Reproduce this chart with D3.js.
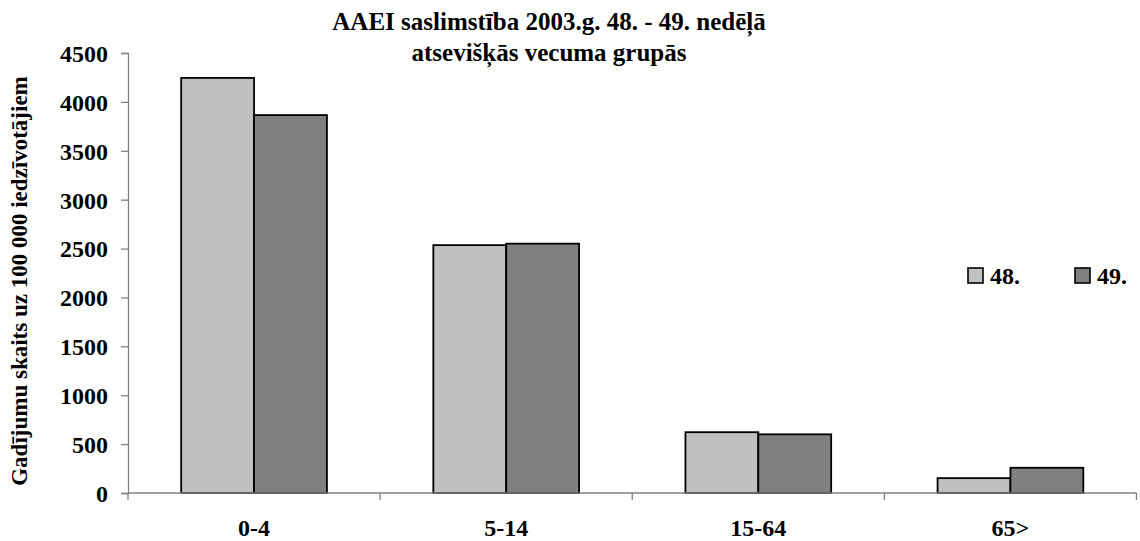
<!DOCTYPE html>
<html>
<head>
<meta charset="utf-8">
<script src="https://cdn.jsdelivr.net/npm/d3@7"></script>
<style>
  body { margin: 0; background: #fff; }
  svg text { font-family: "Liberation Serif", "DejaVu Serif", serif; font-weight: bold; fill: #000; }
</style>
</head>
<body>
<svg id="chart" width="1140" height="541"></svg>
<script>
const categories = ["0-4", "5-14", "15-64", "65>"];
const seriesNames = ["48.", "49."];
const week48 = [4245, 2535, 622, 152];
const week49 = [3865, 2550, 600, 258];
const yTicks = [0, 500, 1000, 1500, 2000, 2500, 3000, 3500, 4000, 4500];
const colors = ["#c0c0c0", "#808080"];

const PLOT = { left: 128, right: 1136.5, top: 53, bottom: 493 };
const FONT = "'Liberation Serif', 'DejaVu Serif', serif";

const svg = d3.select("#chart");

const x = d3.scaleBand()
  .domain(categories)
  .range([PLOT.left, PLOT.right])
  .paddingInner(0)
  .paddingOuter(0);

const xInner = d3.scaleBand()
  .domain(seriesNames)
  .range([0, x.bandwidth()])
  .paddingInner(0)
  .paddingOuter(0.73);

const y = d3.scaleLinear()
  .domain([0, 4500])
  .range([PLOT.bottom, PLOT.top]);

// title
const title = svg.append("text")
  .attr("text-anchor", "middle")
  .attr("font-family", FONT)
  .style("font-size", "25px");
title.append("tspan").attr("x", 549).attr("y", 30).text("AAEI saslimstība 2003.g. 48. - 49. nedēļā");
title.append("tspan").attr("x", 549).attr("y", 61).text("atsevišķās vecuma grupās");

// bars
const data = categories.map((c, i) => ({ cat: c, values: [week48[i], week49[i]] }));

const groups = svg.append("g").attr("class", "rectangles")
  .selectAll("g")
  .data(data)
  .enter()
  .append("g")
  .attr("transform", d => "translate(" + x(d.cat) + ",0)");

groups.selectAll("rect")
  .data(d => d.values.map((v, j) => ({ name: seriesNames[j], value: v, color: colors[j] })))
  .enter()
  .append("rect")
  .attr("x", d => xInner(d.name))
  .attr("y", d => y(d.value))
  .attr("width", xInner.bandwidth())
  .attr("height", d => PLOT.bottom - y(d.value))
  .attr("fill", d => d.color)
  .attr("stroke", "#000")
  .attr("stroke-width", 1.8);

// y axis
const yaB = svg.append("g")
  .attr("class", "y-axis")
  .attr("transform", "translate(" + PLOT.left + ",0)")
  .call(d3.axisLeft(y).tickValues(yTicks).tickSize(7).tickPadding(13).tickFormat(d3.format("d")));
yaB.attr("font-family", FONT);
yaB.select(".domain").attr("stroke", "#808080").attr("stroke-width", 1.3);
yaB.selectAll(".tick line").attr("stroke", "#808080").attr("stroke-width", 1.3);
yaB.selectAll(".tick text").style("font-size", "24px").attr("dy", "0.35em");

// x axis
const xaB = svg.append("g")
  .attr("class", "x-axis")
  .attr("transform", "translate(0," + PLOT.bottom + ")");
xaB.append("line")
  .attr("x1", PLOT.left).attr("x2", PLOT.right)
  .attr("stroke", "#808080").attr("stroke-width", 1.3);
const xTickPos = categories.map(c => x(c)).concat([x(categories[categories.length - 1]) + x.bandwidth()]);
xaB.selectAll("line.tick")
  .data(xTickPos)
  .enter()
  .append("line")
  .attr("class", "tick")
  .attr("x1", d => d).attr("x2", d => d)
  .attr("y1", 0).attr("y2", 7)
  .attr("stroke", "#808080").attr("stroke-width", 1.3);
xaB.selectAll("text")
  .data(categories)
  .enter()
  .append("text")
  .attr("x", d => x(d) + x.bandwidth() / 2)
  .attr("y", 43)
  .attr("text-anchor", "middle")
  .attr("font-family", FONT)
  .style("font-size", "24px")
  .text(d => d);

// y axis label
svg.append("text")
  .attr("transform", "translate(27,281) rotate(-90)")
  .attr("text-anchor", "middle")
  .attr("font-family", FONT)
  .style("font-size", "23px")
  .text("Gadījumu skaits uz 100 000 iedzīvotājiem");

// legend
const legend = svg.append("g").attr("class", "legend");
const legendX = [968, 1075];
seriesNames.forEach((n, i) => {
  legend.append("rect")
    .attr("x", legendX[i]).attr("y", 268)
    .attr("width", 15).attr("height", 15)
    .attr("fill", colors[i])
    .attr("stroke", "#000").attr("stroke-width", 1.6);
  legend.append("text")
    .attr("x", legendX[i] + 22).attr("y", 284)
    .attr("font-family", FONT)
    .style("font-size", "24px")
    .text(n);
});
</script>
</body>
</html>
